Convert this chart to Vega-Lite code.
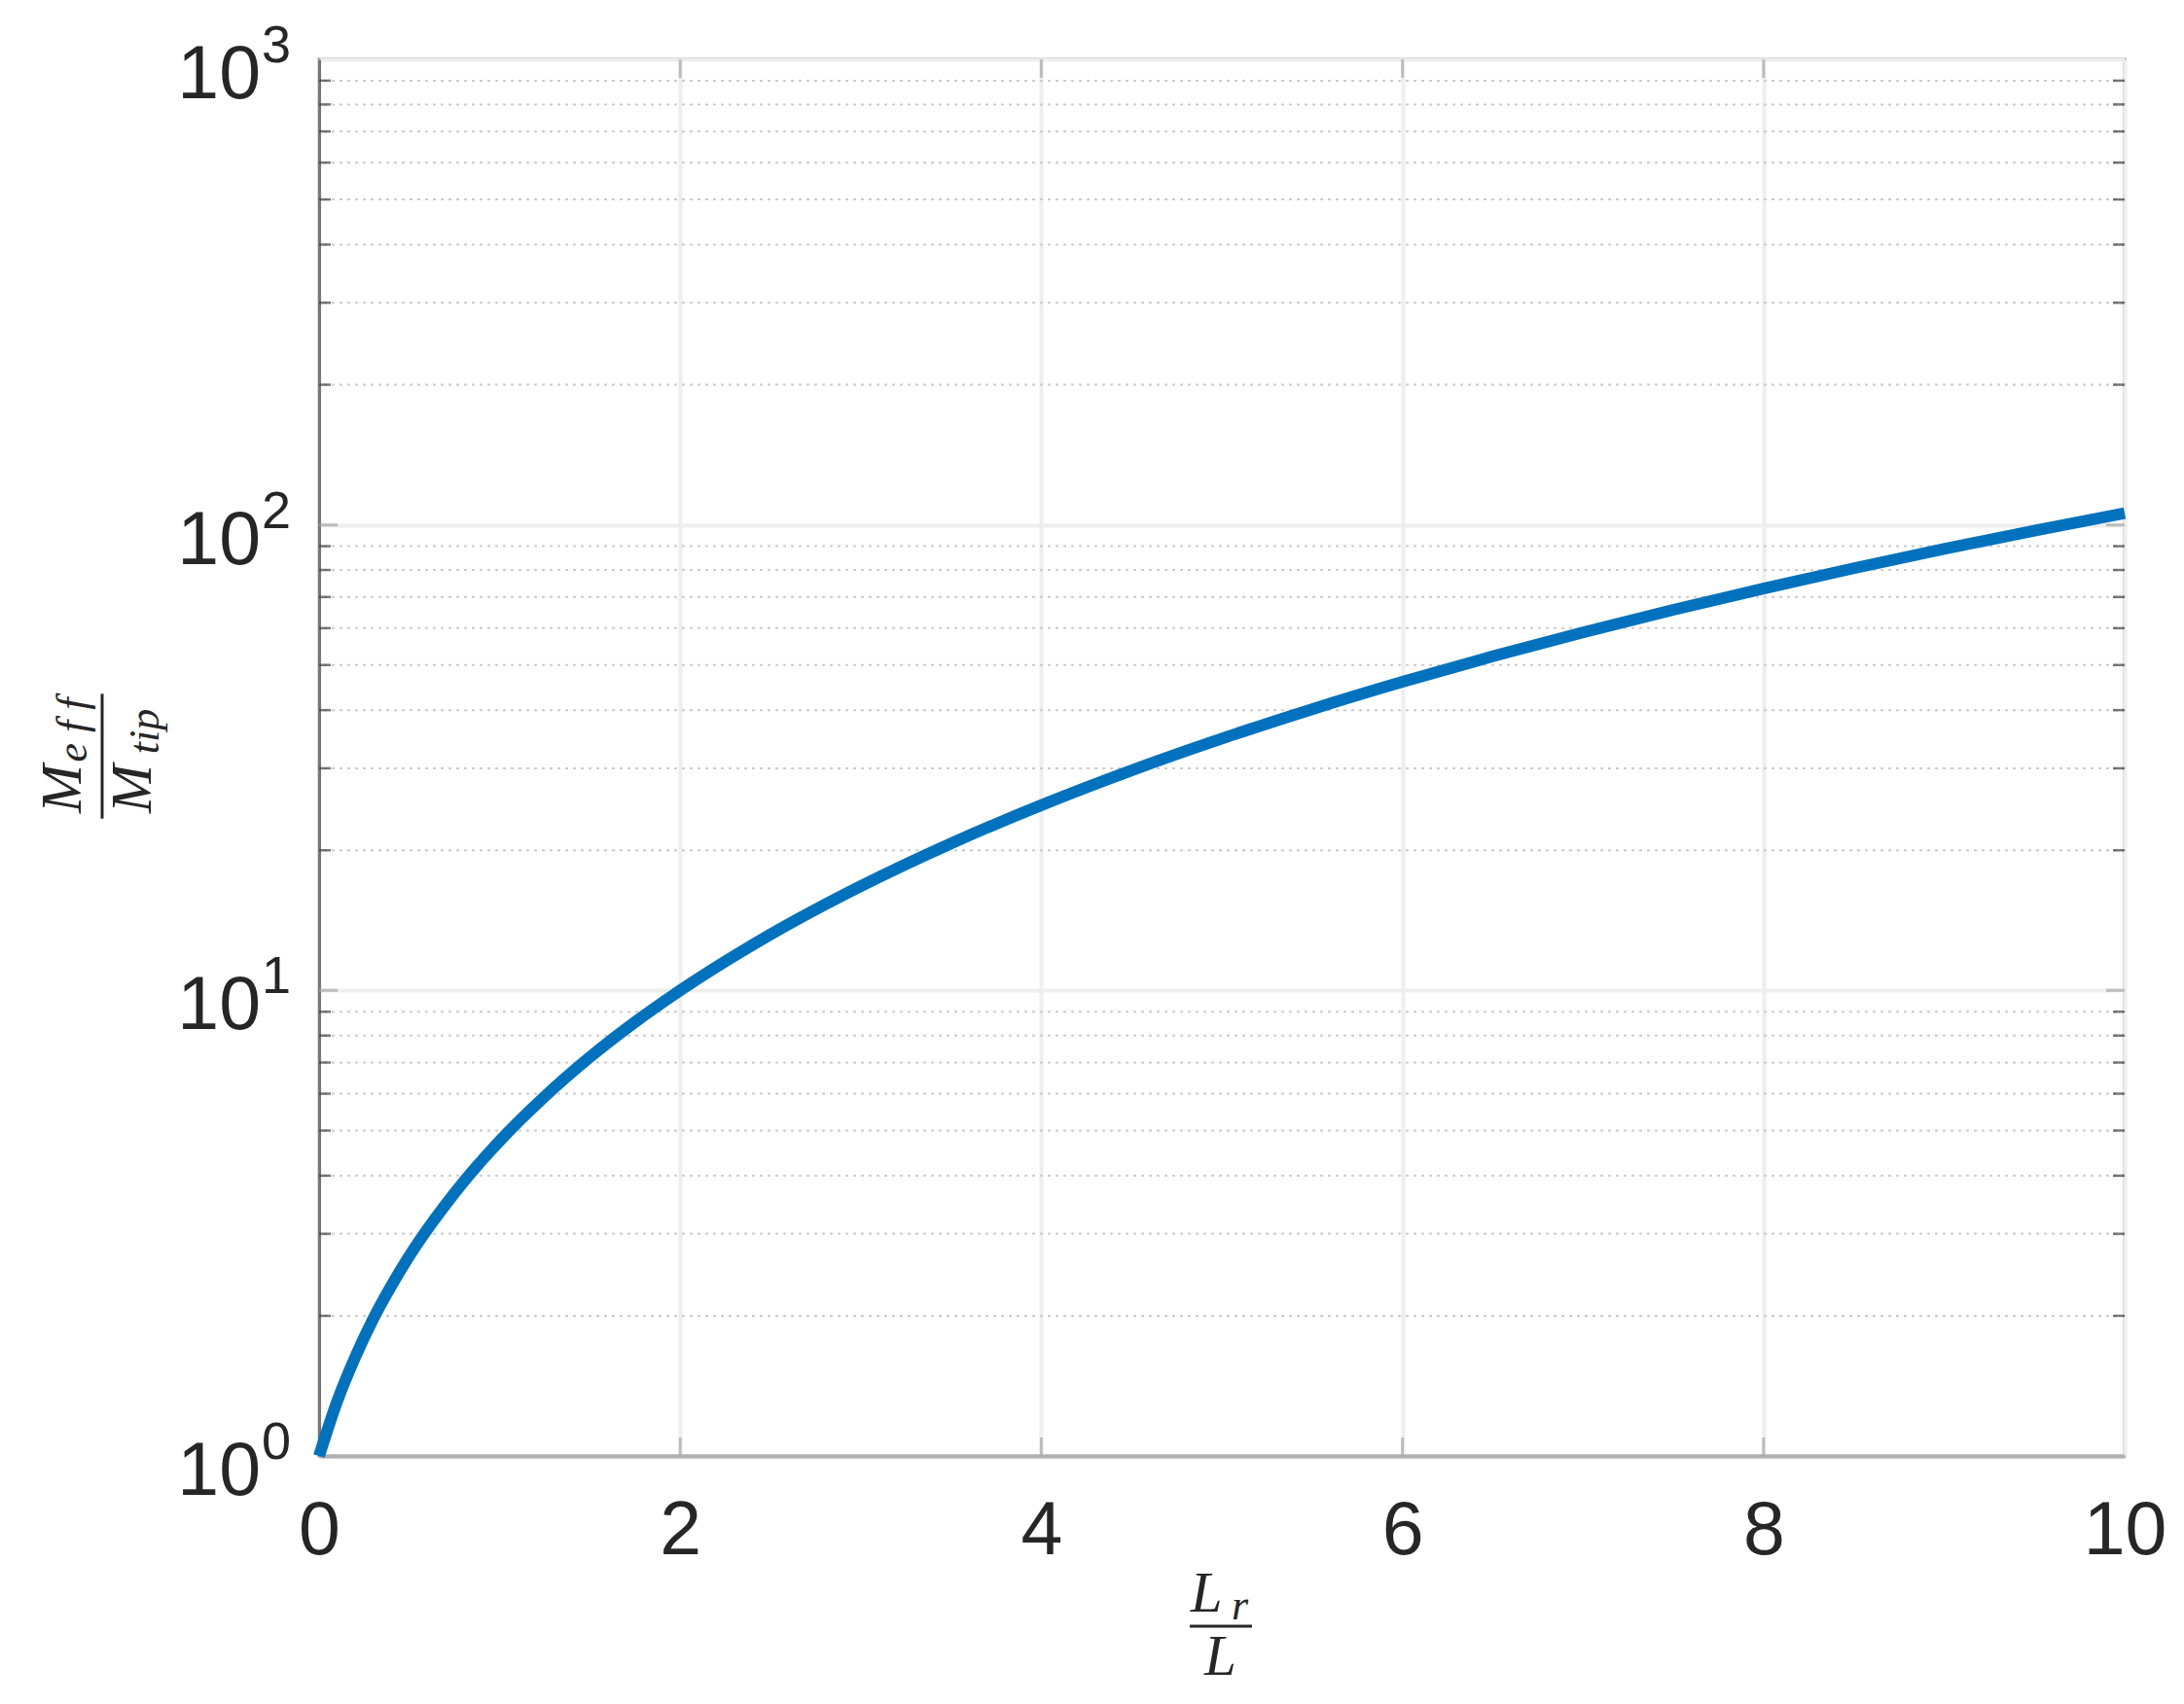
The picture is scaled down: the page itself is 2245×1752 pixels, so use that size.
{
  "$schema": "https://vega.github.io/schema/vega-lite/v6.json",
  "width": 1856,
  "height": 1436,
  "autosize": {"type": "none"},
  "padding": {"left": 328, "top": 61, "right": 61, "bottom": 255},
  "background": "white",
  "config": {"view": {"stroke": "#8a8a8a", "strokeWidth": 3}},
  "datasets": {
    "curve": [
      {"x": 0, "y": 1}, {"x": 0.1, "y": 1.31}, {"x": 0.2, "y": 1.63}, {"x": 0.3, "y": 1.97},
      {"x": 0.4, "y": 2.32}, {"x": 0.5, "y": 2.69}, {"x": 0.75, "y": 3.67}, {"x": 1, "y": 4.75},
      {"x": 1.25, "y": 5.92}, {"x": 1.5, "y": 7.19}, {"x": 1.75, "y": 8.55}, {"x": 2, "y": 10},
      {"x": 2.5, "y": 13.19}, {"x": 3, "y": 16.75}, {"x": 3.5, "y": 20.69}, {"x": 4, "y": 25},
      {"x": 4.5, "y": 29.69}, {"x": 5, "y": 34.75}, {"x": 5.5, "y": 40.19}, {"x": 6, "y": 46},
      {"x": 6.5, "y": 52.19}, {"x": 7, "y": 58.75}, {"x": 7.5, "y": 65.69}, {"x": 8, "y": 73},
      {"x": 8.5, "y": 80.69}, {"x": 9, "y": 88.75}, {"x": 9.5, "y": 97.19}, {"x": 10, "y": 106}
    ],
    "minor": [
      {"v": 2}, {"v": 3}, {"v": 4}, {"v": 5}, {"v": 6}, {"v": 7}, {"v": 8}, {"v": 9},
      {"v": 20}, {"v": 30}, {"v": 40}, {"v": 50}, {"v": 60}, {"v": 70}, {"v": 80}, {"v": 90},
      {"v": 200}, {"v": 300}, {"v": 400}, {"v": 500}, {"v": 600}, {"v": 700}, {"v": 800}, {"v": 900}
    ],
    "decades": [{"v": 1, "e": "0"}, {"v": 10, "e": "1"}, {"v": 100, "e": "2"}, {"v": 1000, "e": "3"}],
    "xmajor": [{"v": 2}, {"v": 4}, {"v": 6}, {"v": 8}],
    "ymajor": [{"v": 10}, {"v": 100}],
    "one": [{}]
  },
  "layer": [
    {
      "data": {"name": "minor"},
      "mark": {"type": "rule", "stroke": "#cccccc", "strokeWidth": 2, "strokeDash": [3, 5]},
      "encoding": {
        "y": {
          "field": "v", "type": "quantitative", "title": null,
          "scale": {"type": "log", "domain": [1, 1000]},
          "axis": {"values": [1, 10, 100, 1000], "grid": true, "gridColor": "#eeeeee", "gridWidth": 4,
                   "labels": false, "ticks": false, "domain": true, "domainColor": "#777777", "domainWidth": 3, "title": null}
        }
      }
    },
    {
      "data": {"name": "curve"},
      "mark": {"type": "line", "stroke": "#0072bd", "strokeWidth": 12, "interpolate": "monotone"},
      "encoding": {
        "x": {
          "field": "x", "type": "quantitative", "title": null,
          "scale": {"domain": [0, 10], "nice": false, "zero": false},
          "axis": {"values": [0, 2, 4, 6, 8, 10], "format": "d", "grid": true, "gridColor": "#eeeeee", "gridWidth": 4,
                   "ticks": false, "domain": true, "domainColor": "#b0b0b0", "domainWidth": 4,
                   "labelFontSize": 77, "labelFont": "Liberation Sans",
                   "labelColor": "#262626", "labelPadding": 39, "labelFlush": false, "title": null}
        },
        "y": {"field": "y", "type": "quantitative", "title": null}
      }
    },
    {
      "data": {"name": "ymajor"},
      "mark": {"type": "tick", "orient": "horizontal", "size": 38, "thickness": 3, "color": "#a6a6a6", "clip": true},
      "encoding": {"y": {"field": "v", "type": "quantitative", "title": null}, "x": {"datum": 0}}
    },
    {
      "data": {"name": "ymajor"},
      "mark": {"type": "tick", "orient": "horizontal", "size": 38, "thickness": 3, "color": "#a6a6a6", "clip": true},
      "encoding": {"y": {"field": "v", "type": "quantitative", "title": null}, "x": {"datum": 10}}
    },
    {
      "data": {"name": "minor"},
      "mark": {"type": "tick", "orient": "horizontal", "size": 24, "thickness": 2.5, "color": "#404040", "clip": true},
      "encoding": {"y": {"field": "v", "type": "quantitative", "title": null}, "x": {"datum": 0}}
    },
    {
      "data": {"name": "minor"},
      "mark": {"type": "tick", "orient": "horizontal", "size": 24, "thickness": 2.5, "color": "#404040", "clip": true},
      "encoding": {"y": {"field": "v", "type": "quantitative", "title": null}, "x": {"datum": 10}}
    },
    {
      "data": {"name": "xmajor"},
      "mark": {"type": "tick", "orient": "vertical", "size": 38, "thickness": 3, "color": "#a6a6a6", "clip": true},
      "encoding": {"x": {"field": "v", "type": "quantitative", "title": null}, "y": {"datum": 1}}
    },
    {
      "data": {"name": "xmajor"},
      "mark": {"type": "tick", "orient": "vertical", "size": 38, "thickness": 3, "color": "#a6a6a6", "clip": true},
      "encoding": {"x": {"field": "v", "type": "quantitative", "title": null}, "y": {"datum": 1000}}
    },
    {
      "data": {"name": "decades"},
      "mark": {"type": "text", "text": "10", "align": "right", "baseline": "alphabetic", "dx": -60, "dy": 40,
               "fontSize": 77, "font": "Liberation Sans", "color": "#262626"},
      "encoding": {"y": {"field": "v", "type": "quantitative", "title": null}, "x": {"datum": 0}}
    },
    {
      "data": {"name": "decades"},
      "mark": {"type": "text", "align": "left", "baseline": "alphabetic", "dx": -59, "dy": 3,
               "fontSize": 54, "font": "Liberation Sans", "color": "#262626"},
      "encoding": {"y": {"field": "v", "type": "quantitative", "title": null}, "x": {"datum": 0},
                   "text": {"field": "e"}}
    },
    {
      "data": {"name": "one"},
      "mark": {"type": "rule", "stroke": "#262626", "strokeWidth": 3},
      "encoding": {"x": {"datum": -1.2015}, "y": {"datum": 43.37}, "y2": {"datum": 23.39}}
    },
    {
      "data": {"name": "one"},
      "mark": {"type": "text", "text": "M", "angle": 270, "align": "center", "baseline": "alphabetic",
               "fontSize": 60, "font": "Liberation Serif", "fontStyle": "italic", "color": "#262626"},
      "encoding": {"x": {"datum": -1.3227}, "y": {"datum": 27.11}}
    },
    {
      "data": {"name": "one"},
      "mark": {"type": "text", "text": "e f f", "angle": 270, "align": "center", "baseline": "alphabetic",
               "fontSize": 44, "font": "Liberation Serif", "fontStyle": "italic", "color": "#262626"},
      "encoding": {"x": {"datum": -1.2877}, "y": {"datum": 36.27}}
    },
    {
      "data": {"name": "one"},
      "mark": {"type": "text", "text": "M", "angle": 270, "align": "center", "baseline": "alphabetic",
               "fontSize": 60, "font": "Liberation Serif", "fontStyle": "italic", "color": "#262626"},
      "encoding": {"x": {"datum": -0.9321}, "y": {"datum": 27.11}}
    },
    {
      "data": {"name": "one"},
      "mark": {"type": "text", "text": "tip", "angle": 270, "align": "center", "baseline": "alphabetic",
               "fontSize": 44, "font": "Liberation Serif", "fontStyle": "italic", "color": "#262626"},
      "encoding": {"x": {"datum": -0.889}, "y": {"datum": 36.01}}
    },
    {
      "data": {"name": "one"},
      "mark": {"type": "rule", "stroke": "#262626", "strokeWidth": 3},
      "encoding": {"x": {"datum": 4.8222}, "x2": {"datum": 5.167}, "y": {"datum": 0.4309}}
    },
    {
      "data": {"name": "one"},
      "mark": {"type": "text", "text": "L", "align": "center", "baseline": "alphabetic",
               "fontSize": 59, "font": "Liberation Serif", "fontStyle": "italic", "color": "#262626"},
      "encoding": {"x": {"datum": 4.914}, "y": {"datum": 0.4631}}
    },
    {
      "data": {"name": "one"},
      "mark": {"type": "text", "text": "r", "align": "center", "baseline": "alphabetic",
               "fontSize": 44, "font": "Liberation Serif", "fontStyle": "italic", "color": "#262626"},
      "encoding": {"x": {"datum": 5.0997}, "y": {"datum": 0.4457}}
    },
    {
      "data": {"name": "one"},
      "mark": {"type": "text", "text": "L", "align": "center", "baseline": "alphabetic",
               "fontSize": 59, "font": "Liberation Serif", "fontStyle": "italic", "color": "#262626"},
      "encoding": {"x": {"datum": 4.9919}, "y": {"datum": 0.3388}}
    }
  ]
}
